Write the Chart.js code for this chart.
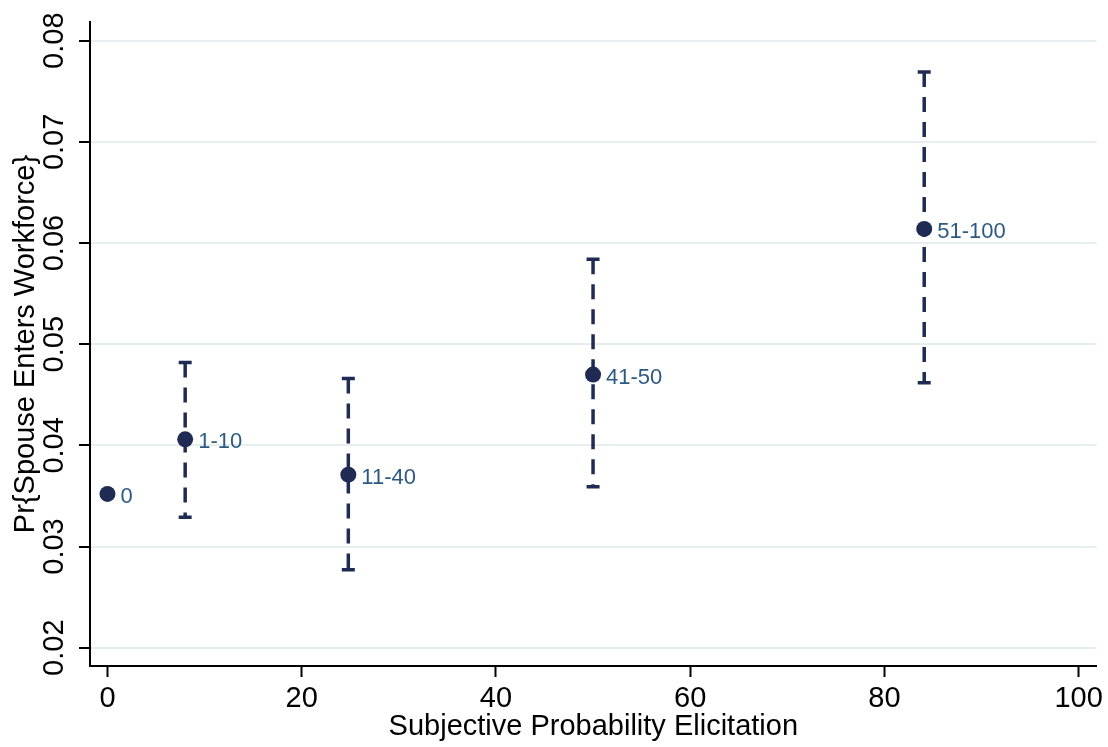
<!DOCTYPE html>
<html>
<head>
<meta charset="utf-8">
<script src="https://cdn.jsdelivr.net/npm/chart.js@4"></script>
<style>
  body { margin: 0; background: #fff; }
  #wrap { width: 1108px; height: 747px; }
</style>
</head>
<body>
<div id="wrap"><canvas id="myChart"></canvas></div>
<script>
// data
const groups = ['0', '1-10', '11-40', '41-50', '51-100'];
const xMid = [0, 8, 24.8, 50, 84.1];
const prob = [0.0352, 0.0406, 0.0371, 0.0470, 0.0614];
const ciHigh = [null, 0.0482, 0.0466, 0.0584, 0.0769];
const ciLow = [null, 0.0329, 0.0277, 0.0359, 0.0462];
const xTicks = [0, 20, 40, 60, 80, 100];
const yTicks = [0.02, 0.03, 0.04, 0.05, 0.06, 0.07, 0.08];

const navy = '#1f2b52';
const labelColor = '#2d5a82';
const gridColor = '#e6eef0';
const fontFam = '"Liberation Sans", Arial, Helvetica, sans-serif';

var ctx = document.getElementById('myChart').getContext('2d');

// points first so they end up drawn on top
var datasets = [{
    type: 'scatter',
    data: xMid.map(function(x, i) { return {x: x, y: prob[i]}; }),
    pointRadius: 8,
    pointBackgroundColor: navy,
    pointBorderColor: navy,
    pointBorderWidth: 0
}];

// one dashed line per confidence interval, caps via the 'line' point style
xMid.forEach(function(x, i) {
    if (ciLow[i] === null) return;
    datasets.push({
        type: 'line',
        data: [{x: x, y: ciHigh[i]}, {x: x, y: ciLow[i]}],
        borderColor: navy,
        borderWidth: 3.5,
        borderDash: [15, 10],
        pointStyle: 'line',
        pointRadius: 6.5,
        pointBorderColor: navy,
        pointBorderWidth: 3.5,
        fill: false
    });
});

const pointLabels = {
    id: 'pointLabels',
    afterDatasetsDraw(chart) {
        var meta = chart.getDatasetMeta(0);
        var c = chart.ctx;
        c.save();
        c.font = '22px ' + fontFam;
        c.fillStyle = labelColor;
        c.textAlign = 'left';
        c.textBaseline = 'middle';
        meta.data.forEach(function(pt, i) {
            c.fillText(groups[i], pt.x + 13, pt.y + 3);
        });
        c.restore();
    }
};

var myChart = new Chart(ctx, {
    data: { datasets: datasets },
    plugins: [pointLabels],
    options: {
        responsive: true,
        maintainAspectRatio: false,
        animation: false,
        layout: { padding: { top: 22, right: 10, left: 0, bottom: 0 } },
        plugins: {
            legend: { display: false },
            tooltip: { enabled: false }
        },
        scales: {
            x: {
                type: 'linear',
                min: -1.8,
                max: 101.85,
                afterBuildTicks: function(scale) {
                    scale.ticks = xTicks.map(function(v) { return {value: v}; });
                },
                afterFit: function(scale) { scale.height = 81; },
                grid: {
                    drawOnChartArea: false,
                    drawTicks: true,
                    tickLength: 11,
                    tickWidth: 2,
                    tickColor: '#000'
                },
                border: { color: '#000', width: 2 },
                ticks: {
                    color: '#000',
                    padding: 5,
                    maxRotation: 0,
                    font: { family: fontFam, size: 29 }
                },
                title: {
                    display: true,
                    text: 'Subjective Probability Elicitation',
                    color: '#000',
                    font: { family: fontFam, size: 29, lineHeight: 1 },
                    padding: { top: 0, bottom: 6 }
                }
            },
            y: {
                type: 'linear',
                min: 0.01819,
                max: 0.08185,
                afterBuildTicks: function(scale) {
                    scale.ticks = yTicks.map(function(v) { return {value: v}; });
                },
                afterFit: function(scale) { scale.width = 90; },
                grid: {
                    color: gridColor,
                    lineWidth: 2,
                    tickLength: 11,
                    tickWidth: 2,
                    tickColor: '#000'
                },
                border: { color: '#000', width: 2 },
                ticks: {
                    color: '#000',
                    minRotation: 90,
                    maxRotation: 90,
                    crossAlign: 'center',
                    padding: -4,
                    font: { family: fontFam, size: 29 },
                    callback: function(v) { return v.toFixed(2); }
                },
                title: {
                    display: true,
                    text: 'Pr{Spouse Enters Workforce}',
                    color: '#000',
                    font: { family: fontFam, size: 29, lineHeight: 1 },
                    padding: { top: 11, bottom: 0 }
                }
            }
        }
    }
});
</script>
</body>
</html>
